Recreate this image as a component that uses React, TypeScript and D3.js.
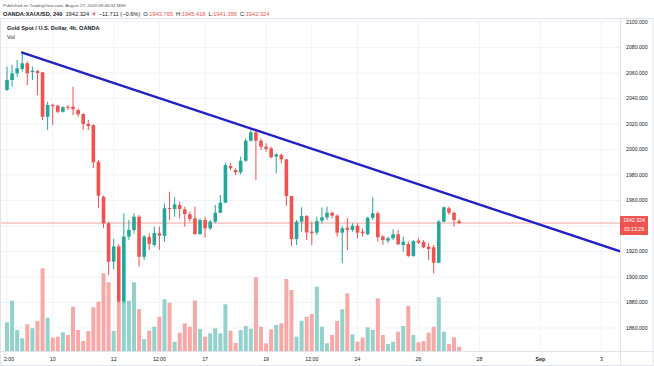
import React from 'react';
import * as d3 from 'd3';

// 4h candles, OANDA:XAUUSD (index 0 = Aug 6 12:00)
const opens = [2046.7, 2054.5, 2059.8, 2063.2, 2067.6, 2060.8, 2061.5, 2060.5, 2025.7, 2035, 2034.4, 2029.6, 2033.5, 2033.6, 2031, 2027.8, 2020, 2019.2, 1990.4, 1963, 1942.1, 1912, 1924, 1880.7, 1931.7, 1936.9, 1947.3, 1915.9, 1931.4, 1925.1, 1934.3, 1932.2, 1954.1, 1953.3, 1956.5, 1953.1, 1949.2, 1946, 1933.7, 1944.7, 1938.2, 1943.4, 1950.4, 1958.3, 1987, 1983.9, 1982.1, 1991.2, 2006.9, 2013.5, 2006.9, 2002.2, 2000.9, 1994.4, 1995.7, 1992.3, 1963.5, 1929.8, 1943.4, 1947.8, 1935.6, 1934.8, 1944.2, 1946.8, 1950.4, 1948.1, 1934.8, 1938.7, 1936.9, 1940.2, 1935.6, 1933.5, 1946.5, 1950, 1931.7, 1928.5, 1930.4, 1933.5, 1925.1, 1925.9, 1916.5, 1928.5, 1927.5, 1923.8, 1923.3, 1911.2, 1943.4, 1953.9, 1950.4, 1943.765];
const highs = [2065, 2066.3, 2070.2, 2076.7, 2069, 2065, 2062.5, 2061, 2037.5, 2036, 2035, 2034, 2035, 2049.3, 2032.3, 2028.4, 2023.1, 2019.5, 1991.8, 1963.8, 1943.4, 1930, 1926, 1950, 1944.7, 1950, 1948.6, 1933, 1934.3, 1939.5, 1939.5, 1957.8, 1966.9, 1962.5, 1959.1, 1955.2, 1951.3, 1955.2, 1946, 1947.3, 1944.7, 1956.5, 1964.3, 1989.2, 1989.4, 1985.3, 1994.4, 2008.8, 2015.3, 2014.7, 2008.8, 2004.9, 2002.2, 1997, 1997, 1992.5, 1963.5, 1944.7, 1954.7, 1948.6, 1943.4, 1947.3, 1954.7, 1955.2, 1951.2, 1949.2, 1940, 1946.3, 1942.1, 1942.1, 1938.2, 1947.3, 1962.5, 1951.2, 1932.9, 1931.7, 1937.4, 1936.9, 1931.7, 1927.7, 1929, 1930.4, 1929, 1926.4, 1925.1, 1944.7, 1955.2, 1955.2, 1951.2, 1945.418];
const lows = [2046, 2049.3, 2057, 2061, 2050.6, 2054.5, 2042.7, 2023.1, 2015.3, 2019.2, 2028.4, 2029, 2031, 2027, 2025.7, 2015.3, 2015.3, 1985.3, 1953.9, 1938.2, 1901.6, 1906, 1880, 1879.5, 1929, 1934, 1908, 1913.3, 1921.2, 1923.8, 1921.2, 1927.7, 1944.7, 1947.3, 1946, 1939.5, 1943.4, 1932.9, 1932.9, 1930.7, 1936.9, 1942.1, 1950, 1957.8, 1983.9, 1980, 1980.5, 1990.4, 2006.1, 1976.1, 1999.6, 1998.3, 1993.1, 1981.3, 1989.2, 1955.7, 1924.3, 1925.1, 1935.6, 1929, 1925.1, 1932.9, 1942.1, 1944.7, 1946, 1931.7, 1911, 1921.2, 1935.6, 1930.3, 1931.7, 1932.9, 1944.7, 1927.7, 1925.1, 1926.4, 1929, 1925.1, 1919.8, 1915.5, 1915.9, 1925.9, 1922.5, 1913.3, 1902.9, 1910.7, 1942.9, 1948.6, 1939.5, 1941.356];
const closes = [2054.5, 2059.8, 2063.7, 2067.6, 2059.8, 2061.8, 2060, 2025.7, 2034.9, 2034, 2029.6, 2033.1, 2033.1, 2031.5, 2027.6, 2020, 2018.4, 1990, 1963.8, 1942.1, 1912, 1924, 1880.7, 1931.7, 1936.9, 1947.3, 1915.9, 1931.7, 1926, 1934.5, 1932.4, 1953.9, 1953.3, 1957, 1953.3, 1949.4, 1945.5, 1933.7, 1944.7, 1938.2, 1943.4, 1950.4, 1958.3, 1987.8, 1985.3, 1982.1, 1991.2, 2006.9, 2013.5, 2006.9, 2002.2, 2000.4, 1993.9, 1996.2, 1992.3, 1963.5, 1929.8, 1943.4, 1947.8, 1935, 1934.3, 1943.9, 1946.8, 1950.4, 1948.1, 1934.8, 1938.2, 1936.9, 1940.2, 1934.8, 1934.3, 1946.5, 1950, 1931.2, 1929, 1930.4, 1933.5, 1925.6, 1927.7, 1916.5, 1928.2, 1926.9, 1923.3, 1922, 1911.2, 1943.4, 1954.7, 1950.4, 1944.7, 1942.324];
const volumes = [28.7, 50.3, 21, 12.7, 26.7, 22.7, 30, 82.7, 33.3, 13.3, 14.3, 18.7, 16, 44.3, 21, 10, 20, 43.7, 49.3, 77.7, 68.7, 20, 49.3, 49.5, 50.3, 68.7, 42, 11.7, 20.3, 24.3, 34.3, 51.7, 48.3, 9.3, 18.3, 27.7, 24.3, 50.3, 22, 14.3, 17.7, 22.7, 17.7, 46.7, 20.3, 8, 21, 25, 22.3, 73.7, 24.3, 7.7, 21.7, 26, 27.7, 72, 61, 14.3, 30.3, 34.3, 37, 64.3, 24.3, 7.7, 16, 30, 41.7, 57.7, 16.7, 9.3, 13.3, 23.7, 21, 52.7, 16, 7, 9.3, 19.3, 25, 45, 16, 8.7, 10, 18.3, 24.3, 53.7, 19.3, 7, 13.7, 4.3];

const priceTicks = [2100, 2080, 2060, 2040, 2020, 2000, 1980, 1960, 1940, 1920, 1900, 1880, 1860];
const timeTickIndex = [0, 9, 21, 30, 39, 51, 60, 69, 81, 93, 105, 117];
const timeTickLabels = ['2:00', '10', '12', '12:00', '17', '19', '12:00', '24', '26', '28', 'Sep', '3'];

const trendIndex = [3, 120.7];
const trendPrice = [2076, 1920.2];

const lastPrice = 1942.324;
const countdown = '03:13:29';

const UP = '#26a69a';
const DOWN = '#ef5350';
const UP_VOL = '#93d2cc';
const DOWN_VOL = '#f7a9a7';
const FONT = '"Liberation Sans", Arial, sans-serif';

export default function App() {
  const W = 654, H = 366;
  const paneL = 1, paneR = 620, paneT = 18, paneB = 351;
  const x = d3.scaleLinear().domain([0, 89]).range([7, 459.1]);
  const y = d3.scaleLinear().domain([1860, 2100]).range([328, 22]);
  const vy = d3.scaleLinear().domain([0, 100]).range([paneB, paneB - 100]);
  const bw = 3.6;
  const vw = 4;
  const trendLine = d3.line<number>()
    .x((_, i) => x(trendIndex[i]))
    .y((p) => y(p));
  const ly = y(lastPrice);

  return (
    <svg width={W} height={H} style={{ position: 'fixed', left: 0, top: 0, background: '#fff' }} fontFamily={FONT}>
      <defs>
        <clipPath id="pane">
          <rect x={paneL} y={paneT} width={paneR - paneL} height={paneB - paneT} />
        </clipPath>
      </defs>
      <rect x={0} y={0} width={W} height={H} fill="#fff" />
      {/* header */}
      <text x={3} y={7.3} fontSize={4.4} fill="#50535e">Published on TradingView.com, August 27, 2020 08:46:33 MSK</text>
      <text x={3} y={16} fontSize={5.7} fill="#131722">
        <tspan fontWeight={700}>OANDA:XAUUSD, 240</tspan>
        <tspan dx={3}>1942.324</tspan>
        <tspan fill={DOWN} dx={2}>▼</tspan>
        <tspan dx={2}>−11.711 (−0.6%)</tspan>
        <tspan dx={3}>O:</tspan><tspan fill={DOWN}>1943.765</tspan>
        <tspan dx={3}>H:</tspan><tspan fill={DOWN}>1945.418</tspan>
        <tspan dx={3}>L:</tspan><tspan fill={DOWN}>1941.356</tspan>
        <tspan dx={3}>C:</tspan><tspan fill={DOWN}>1942.324</tspan>
      </text>
      {/* frame */}
      <rect x={0.5} y={paneT + 0.5} width={W - 1.5} height={H - paneT - 1} fill="none" stroke="#e0e3eb" />
      {/* grid */}
      {priceTicks.map((p) => (
        <line key={'hg' + p} x1={paneL} x2={paneR} y1={y(p)} y2={y(p)} stroke="#f0f3fa" />
      ))}
      {timeTickIndex.map((t, i) => (
        <line key={'vg' + i} x1={x(t)} x2={x(t)} y1={paneT} y2={paneB} stroke="#f0f3fa" />
      ))}
      <g clipPath="url(#pane)">
        {/* volume */}
        {volumes.map((v, i) => (
          <rect key={'v' + i} x={x(i) - vw / 2} y={vy(v)} width={vw} height={vy(0) - vy(v)}
            fill={closes[i] >= opens[i] ? UP_VOL : DOWN_VOL} />
        ))}
        {/* last price line */}
        <line x1={paneL} x2={paneR} y1={ly} y2={ly} stroke="#f5a3a2" strokeWidth={1} />
        {/* candles */}
        {opens.map((o, i) => {
          const c = closes[i];
          const col = c >= o ? UP : DOWN;
          const top = y(Math.max(o, c));
          const h = Math.max(1, Math.abs(y(o) - y(c)));
          return (
            <g key={'c' + i}>
              <line x1={x(i)} x2={x(i)} y1={y(highs[i])} y2={y(lows[i])} stroke={col} strokeWidth={1} />
              <rect x={x(i) - bw / 2} y={top} width={bw} height={h} fill={col} />
            </g>
          );
        })}
        {/* trend line */}
        <path d={trendLine(trendPrice) || ''} fill="none" stroke="#2121c9" strokeWidth={2.4} strokeLinecap="round" />
      </g>
      {/* legend */}
      <text x={7} y={30.3} fontSize={5.6} fontWeight={700} fill="#131722">Gold Spot / U.S. Dollar, 4h, OANDA</text>
      <text x={7} y={38.6} fontSize={5.6} fill="#131722">Vol</text>
      {/* axes separators */}
      <line x1={paneR + 0.5} x2={paneR + 0.5} y1={paneT} y2={H} stroke="#e0e3eb" />
      <line x1={0} x2={W} y1={paneB + 0.5} y2={paneB + 0.5} stroke="#e0e3eb" />
      {/* price axis */}
      {priceTicks.filter((p) => Math.abs(p - lastPrice) > 6).map((p) => (
        <text key={'pl' + p} x={626} y={y(p)} dy="0.35em" fontSize={5.2} fill="#131722">{p.toFixed(3)}</text>
      ))}
      <rect x={paneR} y={ly - 7} width={28} height={19} fill={DOWN} />
      <text x={paneR + 14} y={ly - 2.5} dy="0.35em" fontSize={5.2} fill="#fff" textAnchor="middle">{lastPrice.toFixed(3)}</text>
      <text x={paneR + 14} y={ly + 6.5} dy="0.35em" fontSize={5.2} fill="#fff" textAnchor="middle">{countdown}</text>
      {/* time axis */}
      {timeTickIndex.map((t, i) => (
        <text key={'tl' + i} x={i === 0 ? x(t) + 2 : x(t)} y={359} dy="0.35em" fontSize={5.2}
          fontWeight={timeTickLabels[i] === 'Sep' ? 700 : 400}
          fill="#131722" textAnchor="middle">{timeTickLabels[i]}</text>
      ))}
    </svg>
  );
}
